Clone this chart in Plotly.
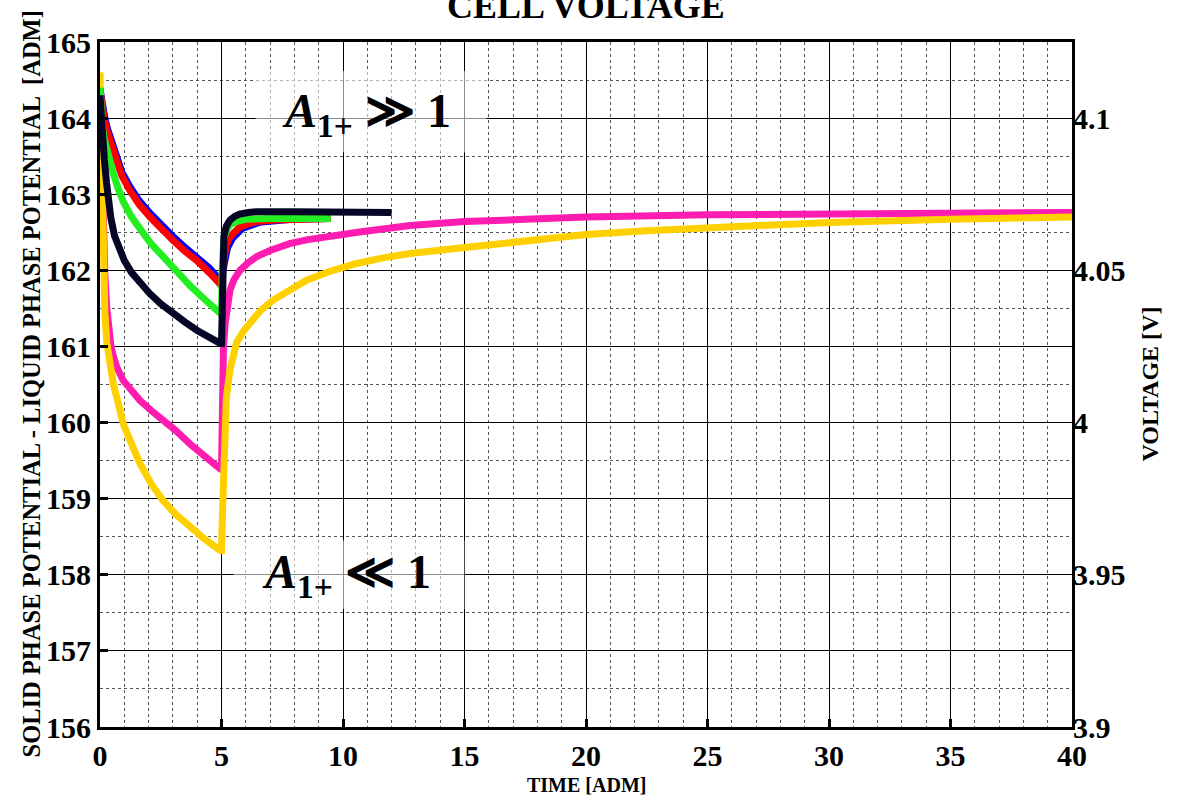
import plotly.graph_objects as go

# ---------------- data ----------------
t_red = [0, 0.05, 0.1, 0.2, 0.3, 0.41, 0.55, 0.69, 0.9, 1.23, 1.6, 2.06, 2.5, 3.02, 3.5, 3.98, 4.5, 4.95,
         5.0, 5.05, 5.1, 5.2, 5.35, 5.55, 5.75, 6.1, 6.45, 7.2, 7.8, 9.5]
v_red = [164.35, 164.2, 164.1, 163.95, 163.82, 163.7, 163.55, 163.4, 163.24, 163.05, 162.87, 162.7, 162.55,
         162.39, 162.25, 162.13, 161.97, 161.8,
         161.8, 162.05, 162.2, 162.33, 162.44, 162.52, 162.57, 162.61, 162.64, 162.66, 162.67, 162.68]

t_blue = [0, 0.05, 0.1, 0.2, 0.3, 0.41, 0.55, 0.69, 0.9, 1.23, 1.6, 2.06, 2.5, 3.02, 3.5, 3.98, 4.5, 4.95,
          5.0, 5.12, 5.25, 5.45, 5.85, 6.55, 7.9, 9.5]
v_blue = [164.38, 164.24, 164.14, 164.0, 163.87, 163.75, 163.6, 163.45, 163.29, 163.1, 162.92, 162.75, 162.6,
          162.44, 162.3, 162.18, 162.03, 161.87,
          161.87, 162.1, 162.3, 162.42, 162.55, 162.63, 162.67, 162.68]

t_green = [0, 0.05, 0.1, 0.18, 0.27, 0.4, 0.55, 0.75, 0.96, 1.3, 1.65, 2.1, 2.6, 3.1, 3.7, 4.3, 4.95,
           5.0, 5.03, 5.06, 5.1, 5.2, 5.35, 5.6, 6.0, 7.0, 9.5]
v_green = [164.4, 164.05, 163.88, 163.72, 163.6, 163.43, 163.27, 163.07, 162.9, 162.7, 162.53, 162.35, 162.18,
           162.0, 161.8, 161.62, 161.42,
           161.42, 162.0, 162.3, 162.42, 162.52, 162.6, 162.64, 162.67, 162.68, 162.68]

t_black = [0, 0.05, 0.1, 0.18, 0.27, 0.35, 0.45, 0.6, 0.8, 1.0, 1.3, 1.7, 2.06, 2.5, 3.0, 3.5, 4.0, 4.5, 4.95,
           5.0, 5.03, 5.06, 5.1, 5.2, 5.35, 5.55, 5.75, 6.1, 6.45, 8.0, 12.0]
v_black = [164.3, 164.0, 163.75, 163.45, 163.15, 162.9, 162.68, 162.45, 162.27, 162.13, 161.97, 161.82, 161.69,
           161.56, 161.43, 161.32, 161.21, 161.11, 161.04,
           161.04, 161.8, 162.2, 162.45, 162.58, 162.66, 162.71, 162.74, 162.76, 162.77, 162.77, 162.76]

t_magenta = [0, 0.04, 0.08, 0.13, 0.2, 0.28, 0.36, 0.45, 0.55, 0.7, 0.96, 1.3, 1.65, 2.1, 2.61, 3.1, 3.7, 4.3, 4.95,
             5.0, 5.02, 5.05, 5.08, 5.15, 5.25, 5.35, 5.5, 5.76, 6.1, 6.45, 7.0, 7.8, 8.5, 9.2, 10.6, 12.76,
             15, 17.5, 20, 25, 30, 35, 40]
v_magenta = [164.4, 163.8, 163.1, 162.5, 161.95, 161.5, 161.2, 161.0, 160.87, 160.72, 160.55, 160.41, 160.29,
             160.16, 160.03, 159.9, 159.72, 159.55, 159.39,
             159.39, 159.9, 160.5, 160.99, 161.3, 161.55, 161.74, 161.87, 162.0, 162.1, 162.18, 162.26, 162.35,
             162.4, 162.44, 162.5, 162.59, 162.64, 162.67, 162.7, 162.73, 162.74, 162.75, 162.76]

t_yellow = [0, 0.03, 0.06, 0.1, 0.14, 0.2, 0.28, 0.41, 0.55, 0.69, 0.96, 1.3, 1.65, 2.1, 2.61, 3.1, 3.7, 4.3, 4.95,
            5.0, 5.04, 5.08, 5.14, 5.2, 5.35, 5.5, 5.62, 5.9, 6.17, 6.6, 7.13, 7.8, 8.5, 9.5, 10.56, 11.6, 12.76,
            15, 17.5, 20, 22.5, 25, 30, 35, 40]
v_yellow = [164.6, 164.0, 163.3, 162.6, 162.0, 161.45, 161.05, 160.72, 160.5, 160.33, 159.98, 159.72, 159.46,
            159.2, 158.97, 158.8, 158.62, 158.47, 158.32,
            158.32, 158.8, 159.46, 159.95, 160.33, 160.7, 160.95, 161.05, 161.2, 161.3, 161.47, 161.61, 161.75,
            161.87, 161.99, 162.09, 162.16, 162.22, 162.3, 162.39, 162.47, 162.52, 162.56, 162.63, 162.67, 162.70]

x_ticks = [0, 5, 10, 15, 20, 25, 30, 35, 40]
y_ticks = [156, 157, 158, 159, 160, 161, 162, 163, 164, 165]
y2_ticks = [3.9, 3.95, 4.0, 4.05, 4.1]
y2_labels = ["3.9", "3.95", "4", "4.05", "4.1"]

FONT = "Liberation Serif"

fig = go.Figure()

series = [
    (t_magenta, v_magenta, "#ff1cb0"),
    (t_yellow, v_yellow, "#ffd000"),
    (t_blue, v_blue, "#0000ff"),
    (t_red, v_red, "#ff0000"),
    (t_green, v_green, "#22ee22"),
    (t_black, v_black, "#050525"),
]
for tx, vy, col in series:
    fig.add_trace(go.Scatter(x=tx, y=vy, mode="lines", line=dict(color=col, width=7),
                             showlegend=False, hoverinfo="skip"))

# invisible trace on the right voltage axis
fig.add_trace(go.Scatter(x=[0], y=[4.0], yaxis="y2", mode="markers", marker=dict(opacity=0), showlegend=False,
                         hoverinfo="skip"))

axis_common = dict(
    showline=True, linecolor="black", linewidth=3, mirror=True,
    ticks="inside", ticklen=8, tickwidth=3, tickcolor="black",
    showgrid=True, gridcolor="black", gridwidth=1.3,
    zeroline=False,
    tickfont=dict(family=FONT, size=30, color="black", weight="bold"),
)

fig.update_layout(
    width=1185, height=797,
    margin=dict(l=100, r=113, t=42, b=70),
    paper_bgcolor="white", plot_bgcolor="white",
    xaxis=dict(range=[0, 40], tickvals=x_ticks, ticktext=[str(v) for v in x_ticks],
               minor=dict(dtick=1, showgrid=True, griddash="dot", gridcolor="#555", gridwidth=1,
                          ticks=""),
               ticklabelstandoff=0,
               **axis_common),
    yaxis=dict(range=[156, 165], tickvals=y_ticks, ticktext=[str(v) for v in y_ticks],
               minor=dict(dtick=0.5, showgrid=True, griddash="dot", gridcolor="#555", gridwidth=1,
                          ticks=""),
               **axis_common),
    yaxis2=dict(range=[3.9, 4.1253], overlaying="y", side="right", tickvals=y2_ticks, ticktext=y2_labels,
                showgrid=False, showline=False, zeroline=False, ticks="",
                tickfont=dict(family=FONT, size=30, color="black", weight="bold")),
)

# semi-transparent label boxes
fig.add_shape(type="rect", xref="x", yref="y", x0=6.4, x1=15.9, y0=163.55, y1=164.62,
              fillcolor="rgba(255,255,255,0.55)", line=dict(width=0), layer="above")
fig.add_shape(type="rect", xref="x", yref="y", x0=5.5, x1=15.0, y0=157.55, y1=158.45,
              fillcolor="rgba(255,255,255,0.55)", line=dict(width=0), layer="above")

fig.add_annotation(x=10.95, y=164.05, xref="x", yref="y", showarrow=False,
                   text="<b><i>A</i><sub>1+</sub> ≫ 1</b>",
                   font=dict(family=FONT, size=48, color="black"))
fig.add_annotation(x=10.15, y=158.0, xref="x", yref="y", showarrow=False,
                   text="<b><i>A</i><sub>1+</sub> ≪ 1</b>",
                   font=dict(family=FONT, size=48, color="black"))

# titles
fig.add_annotation(x=0.5, y=1, xref="paper", yref="paper", yanchor="bottom", yshift=14, showarrow=False,
                   text="<b>CELL VOLTAGE</b>", font=dict(family=FONT, size=36, color="black"))
fig.add_annotation(x=0.5, y=0, xref="paper", yref="paper", yanchor="middle", yshift=-58, showarrow=False,
                   text="<b>TIME [ADM]</b>", font=dict(family=FONT, size=20, color="black"))
fig.add_annotation(x=0, y=0.5, xref="paper", yref="paper", xanchor="center", xshift=-69, showarrow=False,
                   textangle=-90,
                   text="<b>SOLID PHASE POTENTIAL - LIQUID PHASE POTENTIAL  [ADM]</b>",
                   font=dict(family=FONT, size=24.5, color="black"))
fig.add_annotation(x=1, y=0.5, xref="paper", yref="paper", xanchor="center", xshift=77, showarrow=False,
                   textangle=-90,
                   text="<b>VOLTAGE [V]</b>", font=dict(family=FONT, size=24, color="black"))

fig.write_html("out.html")
